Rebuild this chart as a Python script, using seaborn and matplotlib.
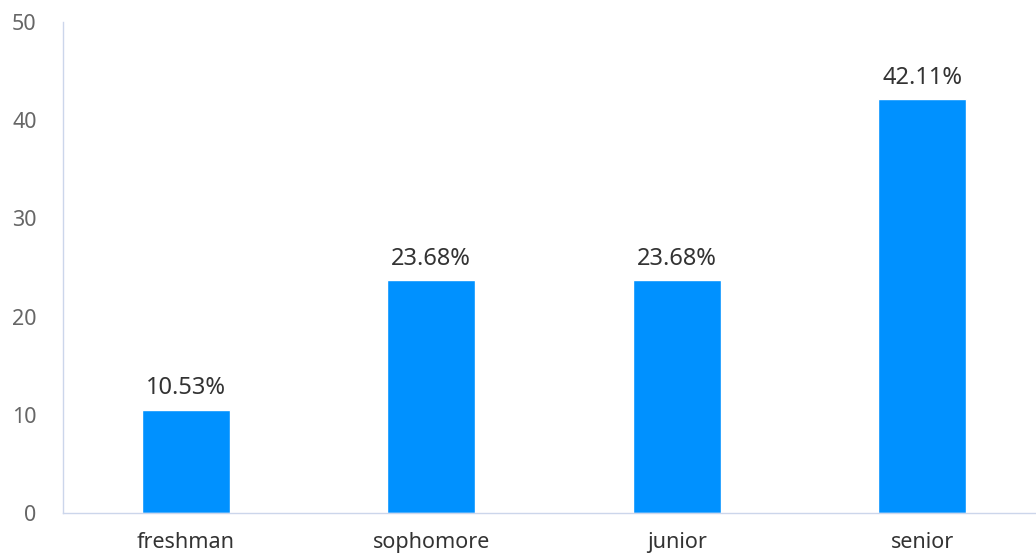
import matplotlib
matplotlib.use("Agg")
import matplotlib.pyplot as plt
import seaborn as sns
import pandas as pd

# Data
grades = ["freshman", "sophomore", "junior", "senior"]
shares = [10.53, 23.68, 23.68, 42.11]
y_ticks = [0, 10, 20, 30, 40, 50]

sns.set_style("white")
plt.rcParams["font.family"] = ["Noto Sans", "DejaVu Sans"]

df = pd.DataFrame({"grade": grades, "share": shares})

fig = plt.figure(figsize=(10.36, 5.59), dpi=100)
ax = fig.add_axes([63 / 1036, 46 / 559, 982 / 1036, 491 / 559])

sns.barplot(data=df, x="grade", y="share", color="#0091ff", saturation=1,
            width=0.36, ax=ax)

# Value labels on top of the bars
for i, v in enumerate(shares):
    ax.annotate(f"{v:.2f}%", xy=(i, v), xytext=(0, 7), textcoords="offset points",
                ha="center", va="bottom", fontsize=17, color="#333333")

ax.set_xlim(-0.5, 3.5)
ax.set_ylim(0, 50)
ax.set_yticks(y_ticks)
ax.set_xlabel("")
ax.set_ylabel("")
ax.tick_params(axis="y", length=0, pad=19, labelsize=15.5, labelcolor="#666666")
ax.tick_params(axis="x", length=0, pad=14, labelsize=15.5, labelcolor="#333333")

for side in ["top", "right"]:
    ax.spines[side].set_visible(False)
for side in ["left", "bottom"]:
    ax.spines[side].set_color("#ccd6eb")
    ax.spines[side].set_linewidth(1)

fig.savefig("out.png", dpi=100)
